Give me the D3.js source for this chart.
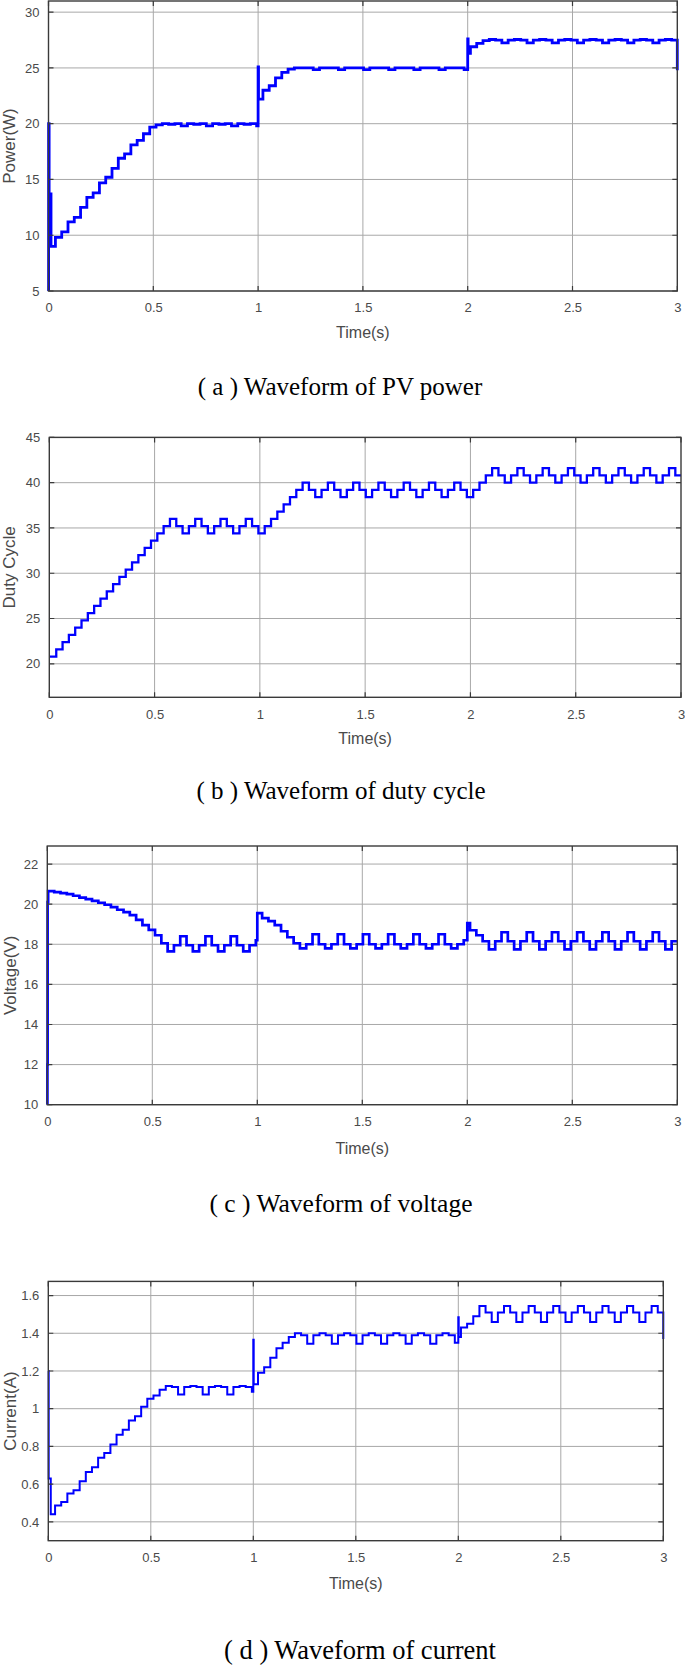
<!DOCTYPE html>
<html><head><meta charset="utf-8">
<script src="https://cdn.jsdelivr.net/npm/d3@7"></script>
<style>
html,body{margin:0;padding:0;background:#fff;}
svg{display:block;}
</style></head><body>
<svg id="c" width="685" height="1666"></svg>
<script>
// ---------------- DATA ----------------
const timeTicks = [0, 0.5, 1, 1.5, 2, 2.5, 3];
const timeTickLabels = ["0", "0.5", "1", "1.5", "2", "2.5", "3"];

// instants at which the MPPT controller updates (s)
const stepTimes = [
  0.012, 0.033, 0.063, 0.093, 0.123, 0.153, 0.183, 0.213, 0.243, 0.273,
  0.303, 0.333, 0.363, 0.393, 0.423, 0.453, 0.483, 0.513, 0.543, 0.573,
  0.603, 0.633, 0.663, 0.693, 0.723, 0.753, 0.783, 0.813, 0.843, 0.873,
  0.903, 0.933, 0.963, 0.993, 1.023, 1.053, 1.083, 1.113, 1.143, 1.173,
  1.203, 1.233, 1.263, 1.293, 1.323, 1.353, 1.383, 1.413, 1.443, 1.473,
  1.503, 1.533, 1.563, 1.593, 1.623, 1.653, 1.683, 1.713, 1.743, 1.773,
  1.803, 1.833, 1.863, 1.893, 1.923, 1.953, 1.983, 2.013, 2.043, 2.073,
  2.103, 2.133, 2.163, 2.193, 2.223, 2.253, 2.283, 2.313, 2.343, 2.373,
  2.403, 2.433, 2.463, 2.493, 2.523, 2.553, 2.583, 2.613, 2.643, 2.673,
  2.703, 2.733, 2.763, 2.793, 2.823, 2.853, 2.883, 2.913, 2.943, 2.973
];

// (a) PV power (W)
const powerTicks = [5, 10, 15, 20, 25, 30];
const powerTickLabels = ["5", "10", "15", "20", "25", "30"];
const powerStart = [[0, 5], [0.0005, 20], [0.003, 13.7]];
const powerValues = [
  9.0, 9.8, 10.3, 11.2, 11.6, 12.5, 13.4, 13.8, 14.7, 15.2,
  16.0, 16.9, 17.3, 18.1, 18.5, 19.1, 19.7, 19.9, 20.0, 19.95,
  20.0, 19.8, 20.0, 19.95, 20.0, 19.8, 20.0, 19.95, 20.0, 19.8,
  20.0, 19.95, 20.0, 19.8, 23.0, 23.4, 24.1, 24.6, 24.9, 25.0,
  25.0, 25.0, 24.85, 25.0, 25.0, 25.0, 24.85, 25.0, 25.0, 25.0,
  24.85, 25.0, 25.0, 25.0, 24.85, 25.0, 25.0, 25.0, 24.85, 25.0,
  25.0, 25.0, 24.85, 25.0, 25.0, 25.0, 24.85, 26.9, 27.2, 27.45,
  27.55, 27.5, 27.25, 27.5, 27.55, 27.5, 27.25, 27.5, 27.55, 27.5,
  27.25, 27.5, 27.55, 27.5, 27.25, 27.5, 27.55, 27.5, 27.25, 27.5,
  27.55, 27.5, 27.25, 27.5, 27.55, 27.5, 27.25, 27.5, 27.55, 27.5
];
const powerEvents = [[1.0, 25.1], [1.002, 22.2], [2.0, 27.6], [2.002, 26.3], [3.0, 24.8]];

// (b) duty cycle (%)
const dutyTicks = [20, 25, 30, 35, 40, 45];
const dutyTickLabels = ["20", "25", "30", "35", "40", "45"];
const dutyStart = [[0, 20.8]];
const dutyValues = [
  20.8, 21.6, 22.4, 23.2, 24.0, 24.8, 25.6, 26.4, 27.2, 28.0,
  28.8, 29.6, 30.4, 31.2, 32.0, 32.8, 33.6, 34.4, 35.2, 36.0,
  35.2, 34.4, 35.2, 36.0, 35.2, 34.4, 35.2, 36.0, 35.2, 34.4,
  35.2, 36.0, 35.2, 34.4, 35.2, 36.0, 36.8, 37.6, 38.4, 39.2,
  40.0, 39.2, 38.4, 39.2, 40.0, 39.2, 38.4, 39.2, 40.0, 39.2,
  38.4, 39.2, 40.0, 39.2, 38.4, 39.2, 40.0, 39.2, 38.4, 39.2,
  40.0, 39.2, 38.4, 39.2, 40.0, 39.2, 38.4, 39.2, 40.0, 40.8,
  41.6, 40.8, 40.0, 40.8, 41.6, 40.8, 40.0, 40.8, 41.6, 40.8,
  40.0, 40.8, 41.6, 40.8, 40.0, 40.8, 41.6, 40.8, 40.0, 40.8,
  41.6, 40.8, 40.0, 40.8, 41.6, 40.8, 40.0, 40.8, 41.6, 40.8
];
const dutyEvents = [[3.0, 40.8]];

// (c) PV voltage (V)
const voltageTicks = [10, 12, 14, 16, 18, 20, 22];
const voltageTickLabels = ["10", "12", "14", "16", "18", "20", "22"];
const voltageStart = [[0, 10], [0.0005, 12], [0.0015, 20.1], [0.004, 20.65]];
const voltageValues = [
  20.65, 20.6, 20.55, 20.5, 20.42, 20.33, 20.25, 20.16, 20.07, 19.97,
  19.85, 19.72, 19.6, 19.45, 19.22, 18.95, 18.72, 18.45, 18.05, 17.65,
  17.95, 18.4, 17.95, 17.65, 17.95, 18.4, 17.95, 17.65, 17.95, 18.4,
  17.95, 17.65, 17.95, 18.2, 19.3, 19.15, 18.95, 18.65, 18.35, 18.05,
  17.8, 18.0, 18.5, 18.0, 17.8, 18.0, 18.5, 18.0, 17.8, 18.0,
  18.5, 18.0, 17.8, 18.0, 18.5, 18.0, 17.8, 18.0, 18.5, 18.0,
  17.8, 18.0, 18.5, 18.0, 17.8, 18.0, 18.2, 18.7, 18.45, 18.15,
  17.75, 18.15, 18.6, 18.15, 17.75, 18.15, 18.6, 18.15, 17.75, 18.15,
  18.6, 18.15, 17.75, 18.15, 18.6, 18.15, 17.75, 18.15, 18.6, 18.15,
  17.75, 18.15, 18.6, 18.15, 17.75, 18.15, 18.6, 18.15, 17.75, 18.15
];
const voltageEvents = [[1.0, 19.55], [2.0, 19.05], [3.0, 18.15]];

// (d) PV current (A)
const currentTicks = [0.4, 0.6, 0.8, 1.0, 1.2, 1.4, 1.6];
const currentTickLabels = ["0.4", "0.6", "0.8", "1", "1.2", "1.4", "1.6"];
const currentStart = [[0, 1.2], [0.002, 0.63]];
const currentValues = [
  0.44, 0.487, 0.505, 0.55, 0.567, 0.615, 0.664, 0.69, 0.74, 0.765,
  0.81, 0.862, 0.889, 0.938, 0.96, 1.01, 1.053, 1.07, 1.10, 1.12,
  1.115, 1.075, 1.115, 1.12, 1.115, 1.075, 1.115, 1.12, 1.115, 1.075,
  1.115, 1.12, 1.115, 1.09, 1.19, 1.22, 1.27, 1.32, 1.35, 1.38,
  1.40, 1.39, 1.345, 1.39, 1.40, 1.39, 1.345, 1.39, 1.40, 1.39,
  1.345, 1.39, 1.40, 1.39, 1.345, 1.39, 1.40, 1.39, 1.345, 1.39,
  1.40, 1.39, 1.345, 1.39, 1.40, 1.39, 1.35, 1.43, 1.45, 1.49,
  1.545, 1.51, 1.46, 1.51, 1.545, 1.51, 1.46, 1.51, 1.545, 1.51,
  1.46, 1.51, 1.545, 1.51, 1.46, 1.51, 1.545, 1.51, 1.46, 1.51,
  1.545, 1.51, 1.46, 1.51, 1.545, 1.51, 1.46, 1.51, 1.545, 1.51
];
const currentEvents = [[1.0, 1.365], [1.002, 1.13], [2.0, 1.485], [2.002, 1.38], [3.0, 1.37]];

// ---------------- LAYOUT ----------------
const panels = [
  {key: "a", start: powerStart, values: powerValues, events: powerEvents,
   yDomain: [5, 31], yTicks: powerTicks, yLabels: powerTickLabels,
   ylabel: "Power(W)", caption: "( a ) Waveform of PV power",
   l: 48.5, r: 677.3, t: 1, b: 291, xlabelY: 332, capY: 387, capX: 340, capSize: 25, ylabX: 15, ylabSize: 17, lw: 2.8},
  {key: "b", start: dutyStart, values: dutyValues, events: dutyEvents,
   yDomain: [16.3, 45], yTicks: dutyTicks, yLabels: dutyTickLabels,
   ylabel: "Duty Cycle", caption: "( b ) Waveform of duty cycle",
   l: 49.3, r: 681, t: 437.4, b: 697.3, xlabelY: 738, capY: 791, capX: 341, capSize: 25, ylabX: 15, ylabSize: 17, lw: 2.3},
  {key: "c", start: voltageStart, values: voltageValues, events: voltageEvents,
   yDomain: [10, 22.9], yTicks: voltageTicks, yLabels: voltageTickLabels,
   ylabel: "Voltage(V)", caption: "( c ) Waveform of voltage",
   l: 47.3, r: 677.3, t: 846, b: 1104.7, xlabelY: 1148, capY: 1204, capX: 341, capSize: 25.5, ylabX: 16, ylabSize: 17, lw: 2.7},
  {key: "d", start: currentStart, values: currentValues, events: currentEvents,
   yDomain: [0.3, 1.675], yTicks: currentTicks, yLabels: currentTickLabels,
   ylabel: "Current(A)", caption: "( d ) Waveform of current",
   l: 48.3, r: 663.3, t: 1281.4, b: 1540.7, xlabelY: 1583, capY: 1651, capX: 360, capSize: 26.5, ylabX: 16, ylabSize: 17, lw: 2.0}
];

const svg = d3.select("#c");
const sans = "'Liberation Sans', Arial, Helvetica, sans-serif";
const serif = "'Liberation Serif', 'Times New Roman', serif";
const textCol = "#4a4a4a";
const frameCol = "#3a3a3a";
const gridCol = "#a8a8a8";
const defs = svg.append("defs");

panels.forEach(p => {
  const x = d3.scaleLinear().domain([0, 3]).range([p.l, p.r]);
  const y = d3.scaleLinear().domain(p.yDomain).range([p.b, p.t]);
  const g = svg.append("g");

  defs.append("clipPath").attr("id", "clip" + p.key)
    .append("rect").attr("x", p.l - 2).attr("y", p.t).attr("width", p.r - p.l + 4).attr("height", p.b - p.t);

  // grid
  g.append("g").selectAll("line").data(timeTicks.slice(1, -1)).join("line")
    .attr("x1", d => x(d)).attr("x2", d => x(d)).attr("y1", p.t).attr("y2", p.b)
    .attr("stroke", gridCol).attr("stroke-width", 1);
  g.append("g").selectAll("line").data(p.yTicks).join("line")
    .attr("x1", p.l).attr("x2", p.r).attr("y1", d => y(d)).attr("y2", d => y(d))
    .attr("stroke", gridCol).attr("stroke-width", 1);

  // series
  const pts = p.start.map(d => ({t: d[0], v: d[1]}));
  p.values.forEach((v, i) => pts.push({t: stepTimes[i], v: v}));
  p.events.forEach(d => pts.push({t: d[0], v: d[1]}));
  pts.sort((a, b) => a.t - b.t);
  const line = d3.line().x(d => x(d.t)).y(d => y(d.v)).curve(d3.curveStepAfter);
  g.append("path").datum(pts).attr("d", line)
    .attr("clip-path", "url(#clip" + p.key + ")")
    .attr("fill", "none").attr("stroke", "#0000ff").attr("stroke-width", p.lw)
    .attr("stroke-linejoin", "miter");

  // frame
  g.append("rect").attr("x", p.l).attr("y", p.t).attr("width", p.r - p.l).attr("height", p.b - p.t)
    .attr("fill", "none").attr("stroke", frameCol).attr("stroke-width", 1.4);

  // inner tick marks
  const tk = 5;
  g.append("g").selectAll("path").data(timeTicks).join("path")
    .attr("d", d => `M${x(d)},${p.b}v${-tk}M${x(d)},${p.t}v${tk}`)
    .attr("stroke", frameCol).attr("stroke-width", 1.2);
  g.append("g").selectAll("path").data(p.yTicks).join("path")
    .attr("d", d => `M${p.l},${y(d)}h${tk}M${p.r},${y(d)}h${-tk}`)
    .attr("stroke", frameCol).attr("stroke-width", 1.2);

  // axis tick labels via d3 axes
  const xa = d3.axisBottom(x).tickValues(timeTicks).tickFormat((d, i) => timeTickLabels[i]).tickSize(0).tickPadding(12);
  const xg = g.append("g").attr("transform", `translate(0,${p.b})`).call(xa);
  xg.select(".domain").remove();
  xg.selectAll("text").attr("font-family", sans).attr("font-size", 13).attr("fill", textCol);

  const ya = d3.axisLeft(y).tickValues(p.yTicks).tickFormat((d, i) => p.yLabels[i]).tickSize(0).tickPadding(9);
  const yg = g.append("g").attr("transform", `translate(${p.l},0)`).call(ya);
  yg.select(".domain").remove();
  yg.selectAll("text").attr("font-family", sans).attr("font-size", 13).attr("fill", textCol);

  // axis titles
  g.append("text").attr("x", (p.l + p.r) / 2).attr("y", p.xlabelY + 5.5)
    .attr("text-anchor", "middle").attr("font-family", sans).attr("font-size", 16)
    .attr("fill", textCol).text("Time(s)");
  g.append("text")
    .attr("transform", `translate(${p.ylabX},${(p.t + p.b) / 2}) rotate(-90)`)
    .attr("text-anchor", "middle").attr("font-family", sans).attr("font-size", p.ylabSize)
    .attr("fill", textCol).text(p.ylabel);

  // caption
  g.append("text").attr("x", p.capX).attr("y", p.capY + 8)
    .attr("text-anchor", "middle").attr("font-family", serif).attr("font-size", p.capSize)
    .attr("fill", "#000").text(p.caption);
});
</script>
</body></html>
